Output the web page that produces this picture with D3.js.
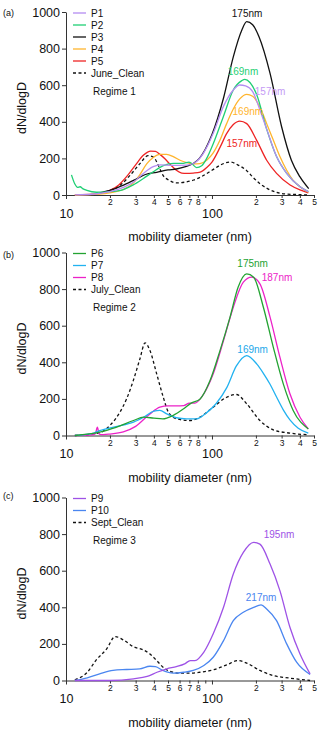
<!DOCTYPE html>
<meta charset="utf-8">
<style>
  body { margin: 0; background: #fff; }
  svg text { font-family: "Liberation Sans", Arial, Helvetica, sans-serif; fill: #111; }
  .axis path, .axis line { stroke: #333; stroke-width: 1px; }
  .curve { fill: none; stroke-width: 1.3px; }
</style>
<svg width="320" height="735"></svg>
<script src="https://d3js.org/d3.v7.min.js"></script>
<script>

  // ---- data (diameter nm, dN/dlogD) ----
  var yTicks = [0, 200, 400, 600, 800, 1000];
  var xMajor = [10, 100];
  var xMinor = [20, 30, 40, 50, 60, 70, 80, 90, 200, 300, 400, 500];
  var xMinorLabels = ["2", "3", "4", "5", "6", "7", "8", "", "2", "3", "4", "5"];

  // regime 1
  var p1 = [[11.5, 1], [15, 4], [20, 18], [24.7, 42], [28.9, 70], [33.9, 118], [39.6, 155], [44, 165],
    [54.3, 162], [67, 163], [74.5, 172], [87.3, 228], [102, 337], [119.6, 483], [140, 574],
    [155, 601], [170, 596], [190, 565], [213, 465], [237, 360], [277, 210], [325, 118], [401, 45], [457, 18]];
  var p2 = [[10.9, 110], [11.5, 60], [12, 42], [12.5, 45], [13, 35], [13.9, 25], [16.2, 15], [20, 18],
    [24.7, 30], [28.9, 55], [33.9, 90], [39.6, 127], [46.4, 160], [54.3, 173], [63.6, 173], [69.5, 180],
    [72.6, 172], [78.5, 150], [85, 160], [92, 200], [102, 280], [119.6, 428], [140, 574], [160, 625],
    [168, 632], [182, 615], [202, 550], [237, 360], [277, 210], [325, 118], [401, 45], [457, 18]];
  var p3 = [[17, 12], [20, 25], [25, 55], [30.5, 88], [35, 112], [41.8, 124], [50, 137], [57, 142],
    [66, 155], [74.5, 172], [82, 200], [90, 250], [100, 330], [120, 530], [140, 755], [160, 900],
    [173, 947], [190, 930], [210, 865], [250, 665], [300, 373], [350, 190], [400, 100], [460, 35]];
  var p4 = [[11.5, 0], [17, 5], [20, 12], [24.7, 30], [28.9, 65], [32, 110], [35.7, 170], [39.6, 205],
    [44, 222], [48.9, 222], [54.3, 210], [60.4, 190], [67, 177], [74.5, 170], [82.7, 172], [92, 190],
    [102, 230], [113.5, 300], [126, 390], [140, 470], [155, 525], [173, 550], [190, 540], [213, 480],
    [237, 390], [263, 300], [292, 210], [325, 135], [360, 80], [401, 45], [457, 15]];
  var p5 = [[11.5, 2], [17, 8], [20, 25], [23, 55], [26, 100], [30, 165], [34, 218], [38, 240],
    [41, 238], [44, 222], [48, 195], [52, 165], [57, 135], [62, 120], [67, 118], [74.5, 120], [83, 125],
    [92, 150], [100, 180], [113.5, 260], [126, 335], [140, 385], [155, 404], [173, 390], [202, 300],
    [237, 190], [277, 118], [343, 55], [401, 28], [457, 12]];
  var juneClean = [[17, 10], [20, 25], [24, 60], [28, 115], [32, 170], [36.5, 215], [40, 205], [43, 160],
    [46, 110], [51, 80], [57, 66], [65, 70], [75, 82], [83, 97], [100, 135], [115, 165], [133, 180],
    [150, 165], [173, 133], [192, 95], [213, 62], [240, 35], [277, 14], [330, 5], [400, 2], [457, 0]];

  // regime 2
  var p6 = [[11.5, 0], [17, 18], [22, 45], [29, 82], [34, 100], [40, 95], [46, 91], [54, 109], [64, 146],
    [72, 177], [83, 200], [97, 300], [113.5, 464], [133, 647], [151, 810], [173, 883], [193, 865],
    [225, 701], [263, 483], [308, 282], [360, 137], [457, 36]];
  var p7 = [[11.5, 0], [15, 10], [17, 27], [22, 49], [29, 73], [34, 100], [40, 133], [44, 137], [49, 118],
    [57, 97], [67, 91], [78.5, 91], [92, 125], [107, 175], [126, 260], [147, 380], [173, 437], [203, 390],
    [225, 340], [250, 280], [277, 210], [308, 140], [342, 85], [390, 40], [457, 13]];
  var p8 = [[11.5, 0], [15, 3], [15.9, 10], [16.4, 45], [16.9, 8], [18, 5], [20, 8], [24.7, 20], [30, 50],
    [37.6, 118], [44, 155], [50, 162], [57, 162], [64, 163], [70, 177], [76.5, 177], [88, 228], [102, 337],
    [120, 519], [140, 701], [164, 838], [187, 865], [213, 829], [250, 647], [292, 428], [342, 228],
    [401, 100], [457, 36]];
  var julyClean = [[11.5, 0], [17, 15], [20, 55], [23.4, 127], [26, 200], [28.9, 300], [32.1, 419],
    [34.8, 506], [37.6, 464], [41.8, 337], [46.4, 209], [50.3, 127], [57.3, 91], [70.7, 82], [82.7, 100],
    [102, 155], [126, 209], [147, 224], [173, 173], [213, 82], [263, 31], [342, 13], [457, 4]];

  // regime 3
  var p9 = [[11.5, 0], [20, 0], [29, 9], [36, 22], [42, 45], [49, 64], [57, 76], [65, 91], [71, 109],
    [76.5, 109], [88, 155], [102, 255], [120, 400], [140, 582], [164, 700], [193, 755], [213, 745],
    [250, 636], [292, 491], [342, 291], [401, 145], [470, 36]];
  var p10 = [[11.5, 0], [14, 15], [17, 36], [21, 55], [26, 60], [32, 64], [37.6, 78], [41, 76], [46, 55],
    [54, 40], [64, 45], [74.5, 55], [88, 82], [102, 127], [120, 218], [140, 327], [164, 373], [193, 400],
    [217, 413], [237, 391], [277, 327], [325, 200], [380, 100], [470, 33]];
  var septClean = [[11.5, 4], [14, 45], [16, 109], [19, 173], [21.7, 240], [24.7, 222], [28.9, 185],
    [33.9, 167], [37.6, 145], [41.8, 109], [47.6, 64], [54.3, 45], [60.4, 40], [70.7, 40], [82.7, 45],
    [102, 58], [126, 85], [151, 109], [173, 95], [213, 55], [263, 27], [342, 13], [470, 0]];

  // peak labels: [text, diameter, dN/dlogD]
  var notesA = [["175nm", 174, 990], ["169nm", 163, 676], ["157nm", 250, 567], ["169nm", 176, 457], ["157nm", 160, 281]];
  var notesB = [["175nm", 190, 940], ["187nm", 279, 864], ["169nm", 190, 472]];
  var notesC = [["195nm", 288, 799], ["217nm", 217, 456]];

  var panels = [
    { tag: "(a)", regime: "Regime 1",
      series: [
        { name: "P1", data: p1, color: "#b48cf2" },
        { name: "P2", data: p2, color: "#1fcf74" },
        { name: "P3", data: p3, color: "#111111" },
        { name: "P4", data: p4, color: "#ffb52e" },
        { name: "P5", data: p5, color: "#ee2424" },
        { name: "June_Clean", data: juneClean, color: "#111111", dashed: true }],
      notes: notesA, noteColors: ["#111111", "#1fcf74", "#c49af5", "#ffb52e", "#ee2424"] },
    { tag: "(b)", regime: "Regime 2",
      series: [
        { name: "P6", data: p6, color: "#23a332" },
        { name: "P7", data: p7, color: "#22b2f0" },
        { name: "P8", data: p8, color: "#ec22c8" },
        { name: "July_Clean", data: julyClean, color: "#111111", dashed: true }],
      notes: notesB, noteColors: ["#23a332", "#ec22c8", "#22a8ea"] },
    { tag: "(c)", regime: "Regime 3",
      series: [
        { name: "P9", data: p9, color: "#9e52e6" },
        { name: "P10", data: p10, color: "#4a86f0" },
        { name: "Sept_Clean", data: septClean, color: "#111111", dashed: true }],
      notes: notesC, noteColors: ["#9e52e6", "#4a86f0"] }
  ];

  // ---- layout ----
  var svg = d3.select("svg");
  var tops = [12, 252.5, 497.5],
    tagY = [13, 254.5, 495.5],
    plotH = 183;

  var x = d3.scaleLog().domain([10, 500]).range([66, 314]);

  panels.forEach(function (p, i) {
    var top = tops[i], bottom = top + plotH;
    var y = d3.scaleLinear().domain([0, 1000]).range([bottom, top]);
    var g = svg.append("g");

    // y axis
    g.append("g")
      .attr("class", "axis")
      .attr("transform", "translate(66,0)")
      .call(d3.axisLeft(y).tickValues(yTicks).tickSize(4).tickSizeOuter(0).tickPadding(2)
        .tickFormat(d3.format("d")))
      .selectAll("text").style("font-size", "12.5px");

    // x axis, minor ticks with small labels
    g.append("g")
      .attr("class", "axis")
      .attr("transform", "translate(0," + bottom + ")")
      .call(d3.axisBottom(x).tickValues(xMinor).tickSize(3).tickSizeOuter(0).tickPadding(1)
        .tickFormat(function (d, k) { return xMinorLabels[k]; }))
      .selectAll("text").style("font-size", "8.5px");

    // x axis, decades
    var major = g.append("g")
      .attr("class", "axis")
      .attr("transform", "translate(0," + bottom + ")")
      .call(d3.axisBottom(x).tickValues(xMajor).tickSize(4).tickSizeOuter(0).tickPadding(10)
        .tickFormat(d3.format("d")));
    major.select(".domain").remove();
    major.selectAll("text").style("font-size", "12.5px");

    // curves
    var line = d3.line()
      .x(function (d) { return x(d[0]); })
      .y(function (d) { return y(d[1]); })
      .curve(d3.curveMonotoneX);

    g.selectAll("path.curve")
      .data(p.series.slice().reverse())
      .enter().append("path")
      .attr("class", "curve")
      .attr("d", function (s) { return line(s.data); })
      .attr("stroke", function (s) { return s.color; })
      .attr("stroke-dasharray", function (s) { return s.dashed ? "3,2.5" : null; });

    // peak labels
    g.selectAll("text.note")
      .data(p.notes)
      .enter().append("text")
      .attr("class", "note")
      .attr("x", function (d) { return x(d[1]); })
      .attr("y", function (d) { return y(d[2]); })
      .attr("dy", "0.35em")
      .attr("text-anchor", "middle")
      .style("font-size", "10px")
      .style("fill", function (d, k) { return p.noteColors[k]; })
      .text(function (d) { return d[0]; });

    // legend
    var leg = g.selectAll("g.leg")
      .data(p.series)
      .enter().append("g")
      .attr("class", "leg")
      .attr("transform", function (d, k) { return "translate(0," + (top + 1 + 12 * k) + ")"; });
    leg.append("line")
      .attr("x1", 73).attr("x2", 86)
      .attr("stroke", function (s) { return s.color; })
      .attr("stroke-width", 1.3)
      .attr("stroke-dasharray", function (s) { return s.dashed ? "3,2.5" : null; });
    leg.append("text")
      .attr("x", 91).attr("dy", "0.35em")
      .style("font-size", "10px")
      .text(function (s) { return s.name; });

    g.append("text")
      .attr("x", 93)
      .attr("y", top + 1 + 12 * (p.series.length - 1) + 18)
      .attr("dy", "0.35em")
      .style("font-size", "10px")
      .text(p.regime);

    // panel tag and titles
    g.append("text")
      .attr("x", 3).attr("y", tagY[i]).attr("dy", "0.35em")
      .style("font-size", "9px")
      .text(p.tag);

    g.append("text")
      .attr("transform", "translate(22," + (top + plotH / 2 + 4.5) + ") rotate(-90)")
      .attr("dy", "0.35em")
      .attr("text-anchor", "middle")
      .style("font-size", "12.5px")
      .text("dN/dlogD");

    g.append("text")
      .attr("x", 190).attr("y", bottom + 46)
      .attr("text-anchor", "middle")
      .style("font-size", "12.5px")
      .text("mobility diameter (nm)");
  });

</script>
